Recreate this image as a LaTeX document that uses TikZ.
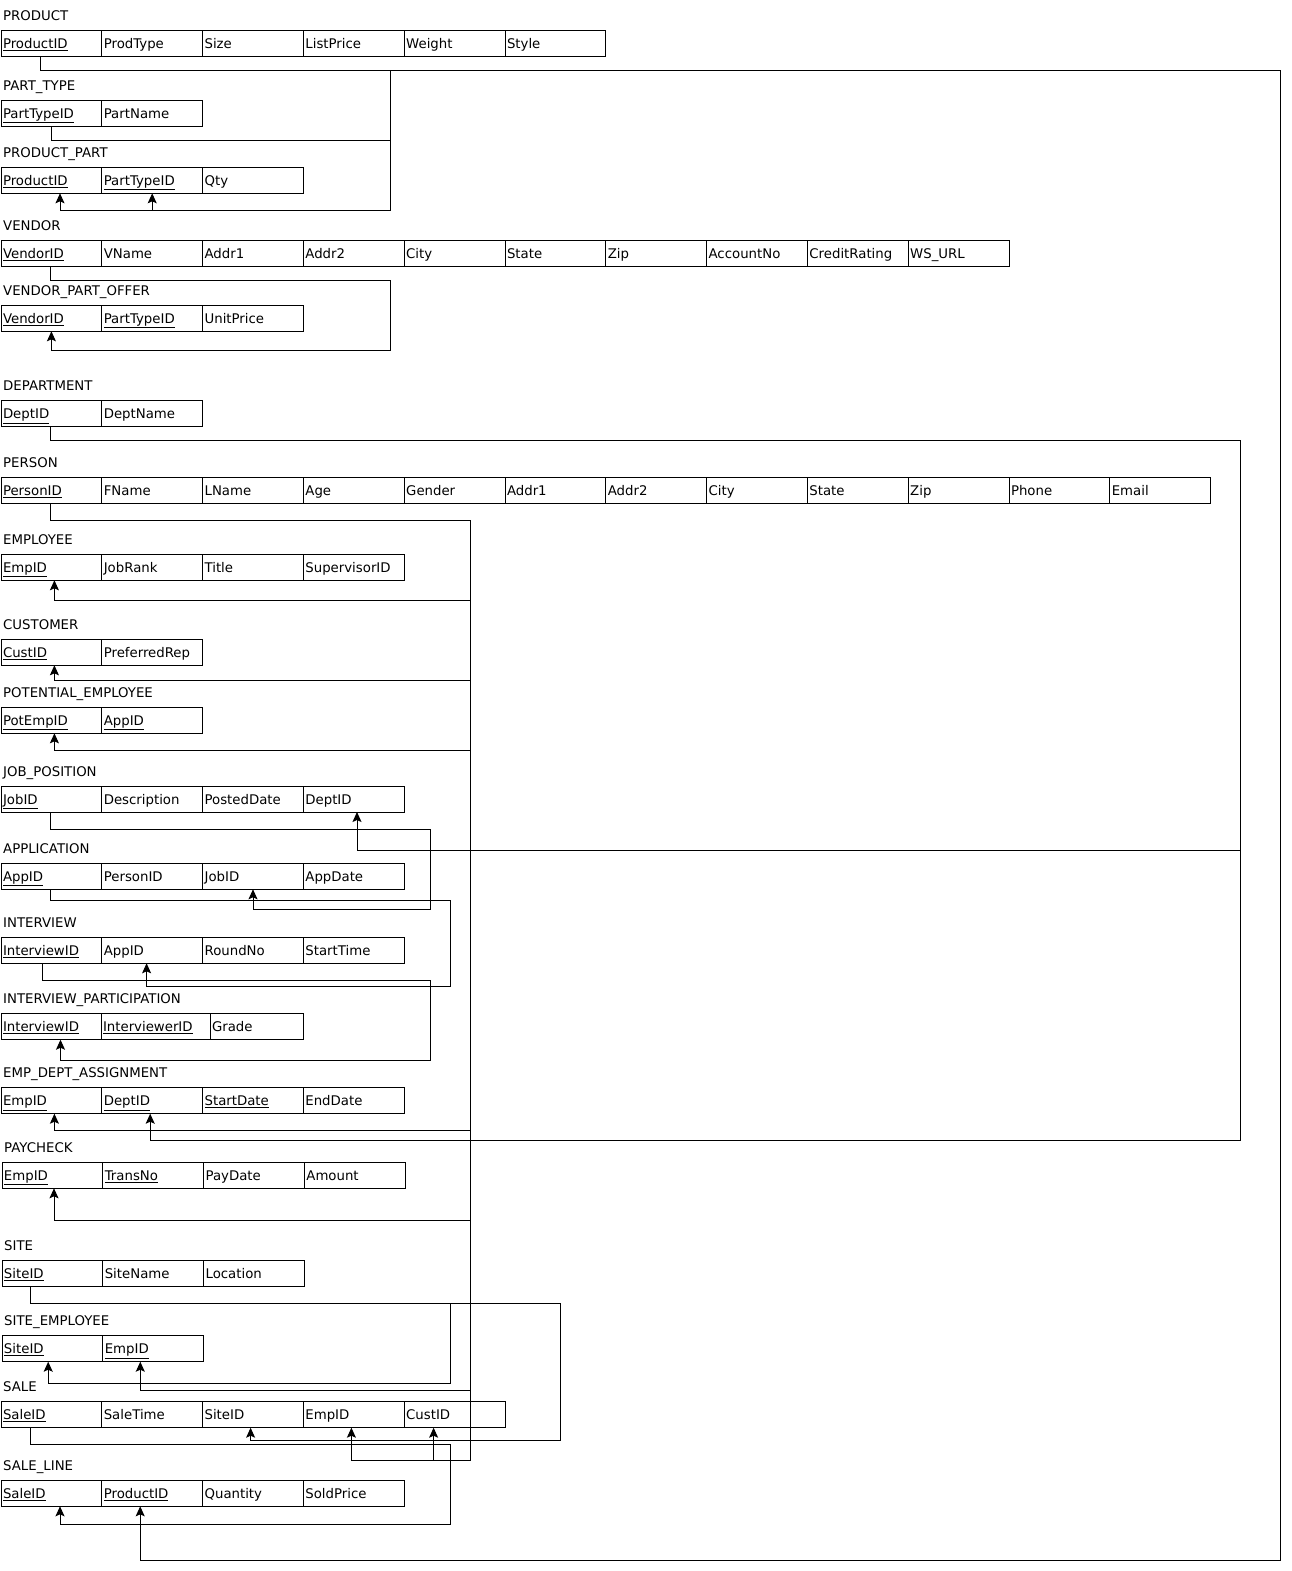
\documentclass[tikz,border=0pt]{standalone}
\usepackage{fontspec}
\setmainfont{DejaVu Sans}
\usepackage{tikz}
\usetikzlibrary{arrows.meta,positioning}
\newcommand{\pk}[1]{\underline{#1}}
\tikzset{
  cell/.style={draw=black,line width=1pt,minimum height=26pt,text width=96.8pt,
    inner xsep=2pt,inner ysep=0pt,outer sep=0pt,align=left,text height=10pt,text depth=0pt,
    font=\fontsize{13.3}{15}\selectfont},
  tablename/.style={inner sep=0pt,font=\fontsize{13.3}{15}\selectfont},
  fkarrow/.style={-{Stealth[length=10pt,width=9pt,inset=2pt]},line width=1pt,draw=black}
}
\begin{document}
\begin{tikzpicture}[x=1pt,y=-1pt]
\useasboundingbox (0,0) rectangle (1292,1571);
% PRODUCT
\node[cell,anchor=north west] (pr1) at (1,30.7) {\pk{ProductID}};
\node[cell,right=0pt of pr1] (pr2) {ProdType};
\node[cell,right=0pt of pr2] (pr3) {Size};
\node[cell,right=0pt of pr3] (pr4) {ListPrice};
\node[cell,right=0pt of pr4] (pr5) {Weight};
\node[cell,right=0pt of pr5] (pr6) {Style};
\node[tablename,above right=10pt and 2pt of pr1.north west,anchor=base west] (t-pr) {PRODUCT};
% PART_TYPE
\node[cell,anchor=north west] (pt1) at (1,100.3) {\pk{PartTypeID}};
\node[cell,right=0pt of pt1] (pt2) {PartName};
\node[tablename,above right=10pt and 2pt of pt1.north west,anchor=base west] (t-pt) {PART\_TYPE};
% PRODUCT_PART
\node[cell,anchor=north west] (pp1) at (1,167.3) {\pk{ProductID}};
\node[cell,right=0pt of pp1] (pp2) {\pk{PartTypeID}};
\node[cell,right=0pt of pp2] (pp3) {Qty};
\node[tablename,above right=10pt and 2pt of pp1.north west,anchor=base west] (t-pp) {PRODUCT\_PART};
% VENDOR
\node[cell,anchor=north west] (vd1) at (1,240.3) {\pk{VendorID}};
\node[cell,right=0pt of vd1] (vd2) {VName};
\node[cell,right=0pt of vd2] (vd3) {Addr1};
\node[cell,right=0pt of vd3] (vd4) {Addr2};
\node[cell,right=0pt of vd4] (vd5) {City};
\node[cell,right=0pt of vd5] (vd6) {State};
\node[cell,right=0pt of vd6] (vd7) {Zip};
\node[cell,right=0pt of vd7] (vd8) {AccountNo};
\node[cell,right=0pt of vd8] (vd9) {CreditRating};
\node[cell,right=0pt of vd9] (vd10) {WS\_URL};
\node[tablename,above right=10pt and 2pt of vd1.north west,anchor=base west] (t-vd) {VENDOR};
% VENDOR_PART_OFFER
\node[cell,anchor=north west] (vo1) at (1,305.3) {\pk{VendorID}};
\node[cell,right=0pt of vo1] (vo2) {\pk{PartTypeID}};
\node[cell,right=0pt of vo2] (vo3) {UnitPrice};
\node[tablename,above right=10pt and 2pt of vo1.north west,anchor=base west] (t-vo) {VENDOR\_PART\_OFFER};
% DEPARTMENT
\node[cell,anchor=north west] (dp1) at (1,400.7) {\pk{DeptID}};
\node[cell,right=0pt of dp1] (dp2) {DeptName};
\node[tablename,above right=10pt and 2pt of dp1.north west,anchor=base west] (t-dp) {DEPARTMENT};
% PERSON
\node[cell,anchor=north west] (ps1) at (1,477.5) {\pk{PersonID}};
\node[cell,right=0pt of ps1] (ps2) {FName};
\node[cell,right=0pt of ps2] (ps3) {LName};
\node[cell,right=0pt of ps3] (ps4) {Age};
\node[cell,right=0pt of ps4] (ps5) {Gender};
\node[cell,right=0pt of ps5] (ps6) {Addr1};
\node[cell,right=0pt of ps6] (ps7) {Addr2};
\node[cell,right=0pt of ps7] (ps8) {City};
\node[cell,right=0pt of ps8] (ps9) {State};
\node[cell,right=0pt of ps9] (ps10) {Zip};
\node[cell,right=0pt of ps10] (ps11) {Phone};
\node[cell,right=0pt of ps11] (ps12) {Email};
\node[tablename,above right=10pt and 2pt of ps1.north west,anchor=base west] (t-ps) {PERSON};
% EMPLOYEE
\node[cell,anchor=north west] (em1) at (1,554.3) {\pk{EmpID}};
\node[cell,right=0pt of em1] (em2) {JobRank};
\node[cell,right=0pt of em2] (em3) {Title};
\node[cell,right=0pt of em3] (em4) {SupervisorID};
\node[tablename,above right=10pt and 2pt of em1.north west,anchor=base west] (t-em) {EMPLOYEE};
% CUSTOMER
\node[cell,anchor=north west] (cu1) at (1,639.3) {\pk{CustID}};
\node[cell,right=0pt of cu1] (cu2) {PreferredRep};
\node[tablename,above right=10pt and 2pt of cu1.north west,anchor=base west] (t-cu) {CUSTOMER};
% POTENTIAL_EMPLOYEE
\node[cell,anchor=north west] (pe1) at (1,707.3) {\pk{PotEmpID}};
\node[cell,right=0pt of pe1] (pe2) {\pk{AppID}};
\node[tablename,above right=10pt and 2pt of pe1.north west,anchor=base west] (t-pe) {POTENTIAL\_EMPLOYEE};
% JOB_POSITION
\node[cell,anchor=north west] (jp1) at (1,786) {\pk{JobID}};
\node[cell,right=0pt of jp1] (jp2) {Description};
\node[cell,right=0pt of jp2] (jp3) {PostedDate};
\node[cell,right=0pt of jp3] (jp4) {DeptID};
\node[tablename,above right=10pt and 2pt of jp1.north west,anchor=base west] (t-jp) {JOB\_POSITION};
% APPLICATION
\node[cell,anchor=north west] (ap1) at (1,863.3) {\pk{AppID}};
\node[cell,right=0pt of ap1] (ap2) {PersonID};
\node[cell,right=0pt of ap2] (ap3) {JobID};
\node[cell,right=0pt of ap3] (ap4) {AppDate};
\node[tablename,above right=10pt and 2pt of ap1.north west,anchor=base west] (t-ap) {APPLICATION};
% INTERVIEW
\node[cell,anchor=north west] (iv1) at (1,937.3) {\pk{InterviewID}};
\node[cell,right=0pt of iv1] (iv2) {AppID};
\node[cell,right=0pt of iv2] (iv3) {RoundNo};
\node[cell,right=0pt of iv3] (iv4) {StartTime};
\node[tablename,above right=10pt and 2pt of iv1.north west,anchor=base west] (t-iv) {INTERVIEW};
% INTERVIEW_PARTICIPATION
\node[cell,text width=96pt,anchor=north west] (ip1) at (1,1013.7) {\pk{InterviewID}};
\node[cell,text width=105pt,right=0pt of ip1] (ip2) {\pk{InterviewerID}};
\node[cell,text width=89pt,right=0pt of ip2] (ip3) {Grade};
\node[tablename,above right=10pt and 2pt of ip1.north west,anchor=base west] (t-ip) {INTERVIEW\_PARTICIPATION};
% EMP_DEPT_ASSIGNMENT
\node[cell,anchor=north west] (ea1) at (1,1087.7) {\pk{EmpID}};
\node[cell,right=0pt of ea1] (ea2) {\pk{DeptID}};
\node[cell,right=0pt of ea2] (ea3) {\pk{StartDate}};
\node[cell,right=0pt of ea3] (ea4) {EndDate};
\node[tablename,above right=10pt and 2pt of ea1.north west,anchor=base west] (t-ea) {EMP\_DEPT\_ASSIGNMENT};
% PAYCHECK
\node[cell,anchor=north west] (pc1) at (2,1162.3) {\pk{EmpID}};
\node[cell,right=0pt of pc1] (pc2) {\pk{TransNo}};
\node[cell,right=0pt of pc2] (pc3) {PayDate};
\node[cell,right=0pt of pc3] (pc4) {Amount};
\node[tablename,above right=10pt and 2pt of pc1.north west,anchor=base west] (t-pc) {PAYCHECK};
% SITE
\node[cell,anchor=north west] (st1) at (2,1260.7) {\pk{SiteID}};
\node[cell,right=0pt of st1] (st2) {SiteName};
\node[cell,right=0pt of st2] (st3) {Location};
\node[tablename,above right=10pt and 2pt of st1.north west,anchor=base west] (t-st) {SITE};
% SITE_EMPLOYEE
\node[cell,anchor=north west] (se1) at (2,1335.7) {\pk{SiteID}};
\node[cell,right=0pt of se1] (se2) {\pk{EmpID}};
\node[tablename,above right=10pt and 2pt of se1.north west,anchor=base west] (t-se) {SITE\_EMPLOYEE};
% SALE
\node[cell,anchor=north west] (sa1) at (1,1401.7) {\pk{SaleID}};
\node[cell,right=0pt of sa1] (sa2) {SaleTime};
\node[cell,right=0pt of sa2] (sa3) {SiteID};
\node[cell,right=0pt of sa3] (sa4) {EmpID};
\node[cell,right=0pt of sa4] (sa5) {CustID};
\node[tablename,above right=10pt and 2pt of sa1.north west,anchor=base west] (t-sa) {SALE};
% SALE_LINE
\node[cell,anchor=north west] (sl1) at (1,1480.3) {\pk{SaleID}};
\node[cell,right=0pt of sl1] (sl2) {\pk{ProductID}};
\node[cell,right=0pt of sl2] (sl3) {Quantity};
\node[cell,right=0pt of sl3] (sl4) {SoldPrice};
\node[tablename,above right=10pt and 2pt of sl1.north west,anchor=base west] (t-sl) {SALE\_LINE};

% foreign keys
\draw[fkarrow] ([xshift=-11.4pt]pr1.south) -- ++(0,14) -| (390.5,210.3) -| ([xshift=8.6pt]pp1.south);
\draw[fkarrow] (pt1.south) -- ++(0,14) -| (390.5,210.3) -| (pp2.south);
\draw[fkarrow] ([xshift=-11.4pt]pr1.south) -- ++(0,14) -| (1280,1560.3) -| ([xshift=-12pt]sl2.south);
\draw[fkarrow] ([xshift=-1.4pt]vd1.south) -- ++(0,14) -| (390.5,350.3) -| (vo1.south);
\draw[fkarrow] ([xshift=-1.4pt]dp1.south) -- ++(0,14) -| (1240,850.3) -| ([xshift=3.2pt]jp4.south);
\draw[fkarrow] ([xshift=-1.4pt]dp1.south) -- ++(0,14) -| (1240,1140.3) -| ([xshift=-2pt]ea2.south);
\draw[fkarrow] ([xshift=-1.4pt]ps1.south) -- ++(0,17) -| (470,600.3) -| ([xshift=3pt]em1.south);
\draw[fkarrow] ([xshift=-1.4pt]ps1.south) -- ++(0,17) -| (470,680.3) -| ([xshift=3pt]cu1.south);
\draw[fkarrow] ([xshift=-1.4pt]ps1.south) -- ++(0,17) -| (470,750.3) -| ([xshift=3pt]pe1.south);
\draw[fkarrow] ([xshift=-1.4pt]ps1.south) -- ++(0,17) -| (470,1130.3) -| ([xshift=3pt]ea1.south);
\draw[fkarrow] ([xshift=-1.4pt]ps1.south) -- ++(0,17) -| (470,1220.3) -| ([xshift=1.6pt]pc1.south);
\draw[fkarrow] ([xshift=-1.4pt]ps1.south) -- ++(0,17) -| (470,1390.3) -| ([xshift=-12.9pt]se2.south);
\draw[fkarrow] ([xshift=-1.4pt]ps1.south) -- ++(0,17) -| (470,1460.3) -| ([xshift=-2.4pt]sa4.south);
\draw[fkarrow] ([xshift=-1.4pt]ps1.south) -- ++(0,17) -| (470,1460.3) -| ([xshift=-21pt]sa5.south);
\draw[fkarrow] ([xshift=-1.4pt]jp1.south) -- ++(0,17) -| (430,909) -| (ap3.south);
\draw[fkarrow] ([xshift=-1.4pt]ap1.south) -- ++(0,11) -| (450,986.3) -| ([xshift=-5.6pt]iv2.south);
\draw[fkarrow] ([xshift=-9pt]iv1.south) -- ++(0,17) -| (430,1060.3) -| ([xshift=9.5pt]ip1.south);
\draw[fkarrow] ([xshift=-22pt]st1.south) -- ++(0,17) -| (560,1440.3) -| ([xshift=-2.4pt]sa3.south);
\draw[fkarrow] ([xshift=-22pt]st1.south) -- ++(0,17) -| (450,1383.3) -| ([xshift=-4.2pt]se1.south);
\draw[fkarrow] ([xshift=-21pt]sa1.south) -- ++(0,17) -| (450,1524.3) -| ([xshift=8.6pt]sl1.south);
\end{tikzpicture}
\end{document}
